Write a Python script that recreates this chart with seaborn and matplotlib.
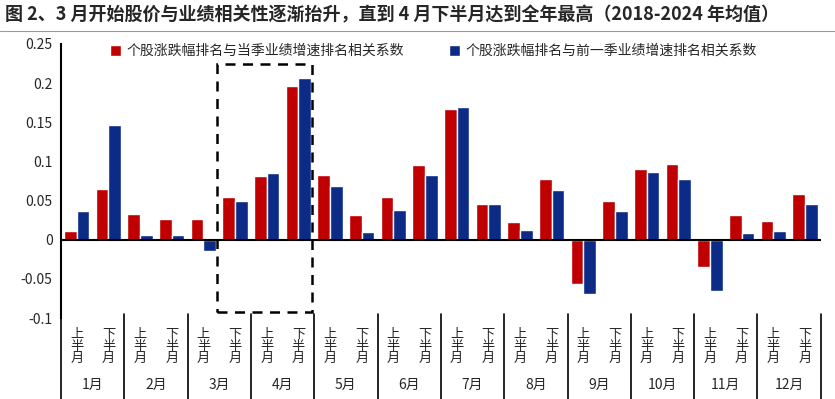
import seaborn as sns
import pandas as pd
import matplotlib.pyplot as plt
from matplotlib.patches import Rectangle
from matplotlib.lines import Line2D

# Data
months = ["1月", "2月", "3月", "4月", "5月", "6月", "7月", "8月", "9月", "10月", "11月", "12月"]
halves = ["上半月", "下半月"]
series_names = ["个股涨跌幅排名与当季业绩增速排名相关系数", "个股涨跌幅排名与前一季业绩增速排名相关系数"]
current_q = [0.011, 0.065, 0.033, 0.026, 0.026, 0.055, 0.081, 0.196, 0.083, 0.032, 0.054, 0.095,
             0.167, 0.046, 0.022, 0.077, -0.056, 0.050, 0.090, 0.097, -0.035, 0.032, 0.024, 0.058]
prev_q = [0.037, 0.147, 0.006, 0.006, -0.014, 0.050, 0.085, 0.206, 0.069, 0.010, 0.038, 0.083,
          0.170, 0.045, 0.012, 0.063, -0.069, 0.037, 0.086, 0.078, -0.065, 0.009, 0.011, 0.045]

cats = [m + h for m in months for h in halves]
df = pd.DataFrame({
    "cat": cats * 2,
    "val": current_q + prev_q,
    "series": [series_names[0]] * len(cats) + [series_names[1]] * len(cats),
})

sns.set_style("white")
plt.rcParams['font.family'] = ['Noto Sans CJK SC', 'DejaVu Sans']
plt.rcParams['axes.unicode_minus'] = False

red = "#C00000"
blue = "#0B2B86"

fig = plt.figure(figsize=(8.35, 3.99), dpi=100)
ax = fig.add_axes([0.073, 0.203, 0.910, 0.687])

sns.barplot(data=df, x="cat", y="val", hue="series", palette=[red, blue],
            width=0.8, saturation=1, ax=ax, order=cats, hue_order=series_names)

ax.set_ylim(-0.1, 0.25)
ax.set_xlim(-0.5, len(cats) - 0.5)
ax.set_yticks([-0.1, -0.05, 0, 0.05, 0.1, 0.15, 0.2, 0.25])
ax.set_yticklabels(["-0.1", "-0.05", "0", "0.05", "0.1", "0.15", "0.2", "0.25"], fontsize=10)
ax.tick_params(axis="y", direction="in", length=5, width=1.2, color="black", pad=6)
ax.set_xticks([])
ax.set_xlabel("")
ax.set_ylabel("")

for s in ["top", "right", "bottom"]:
    ax.spines[s].set_visible(False)
ax.spines["left"].set_color("black")
ax.spines["left"].set_linewidth(1.5)

# zero line
ax.axhline(0, color="black", linewidth=1.5, zorder=5)

# dashed box around March H2 - April H2
rect = Rectangle((4.42, -0.092), 3.0, 0.316, fill=False, edgecolor="black",
                 linestyle=(0, (4, 3)), linewidth=1.8, zorder=6)
ax.add_patch(rect)

# two-level category labels
trans = ax.get_xaxis_transform()
for i, c in enumerate(cats):
    h = halves[i % 2]
    ax.text(i, -0.035, "\n".join(h), transform=trans, ha="center", va="top",
            fontsize=9.5, linespacing=0.9)
for j, m in enumerate(months):
    ax.text(2 * j + 0.5, -0.245, m, transform=trans, ha="center", va="center", fontsize=10)
for j in range(len(months) + 1):
    ax.plot([2 * j - 0.5, 2 * j - 0.5], [0.015, -0.3], transform=trans, color="black",
            linewidth=1.2, clip_on=False)

# legend
handles, labels = ax.get_legend_handles_labels()
ax.legend(handles, labels, ncol=2, loc="upper center", bbox_to_anchor=(0.49, 1.045),
          frameon=False, fontsize=10, handlelength=0.8, handleheight=0.8,
          handletextpad=0.4, columnspacing=3.2)

# title and rule
fig.text(0.006, 0.962, "图 2、3 月开始股价与业绩相关性逐渐抬升，直到 4 月下半月达到全年最高（2018-2024 年均值）",
         fontsize=13, fontweight="bold", ha="left", va="center")
fig.add_artist(Line2D([0, 1], [0.922, 0.922], color="#999999", linewidth=0.8))

plt.savefig("out.png", dpi=100)
